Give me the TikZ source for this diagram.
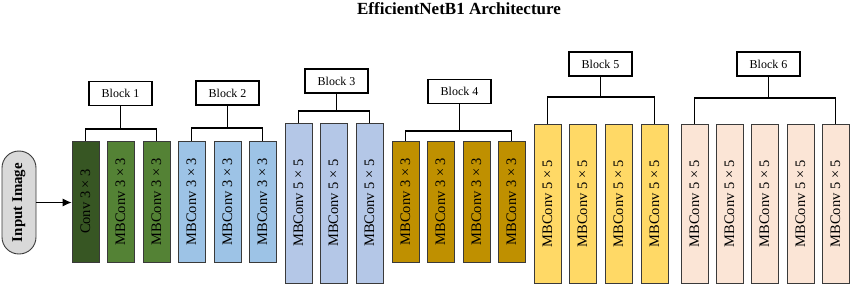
\documentclass[tikz,border=0pt]{standalone}
\usepackage{fontspec}
\setmainfont{Liberation Serif}
\usetikzlibrary{arrows.meta,shadows}

\definecolor{convdark}{HTML}{375623}
\definecolor{greenmb}{HTML}{548235}
\definecolor{bluemb}{HTML}{9DC3E6}
\definecolor{lavmb}{HTML}{B4C7E7}
\definecolor{goldmb}{HTML}{BF9000}
\definecolor{yellowmb}{HTML}{FFD966}
\definecolor{peachmb}{HTML}{FBE5D6}
\definecolor{barline}{HTML}{3A3A3A}

\tikzset{
  layer/.style={draw=barline, line width=0.7pt, minimum width=27pt,
    inner sep=0pt, font=\fontsize{14.5}{16}\selectfont,
    drop shadow={shadow xshift=0.9pt, shadow yshift=-0.9pt, fill=black!45, opacity=0.8}},
  short/.style={layer, minimum height=121pt},
  tall/.style={layer, minimum height=159pt},
  blockbox/.style={draw=black, line width=1.4pt, fill=white,
    minimum width=63pt, minimum height=24pt, inner sep=0pt,
    font=\fontsize{12}{14}\selectfont},
  link/.style={draw=black, line width=1.3pt},
}

\newcommand{\vtext}[1]{\rotatebox{90}{#1}}

\begin{document}
\begin{tikzpicture}[x=1pt, y=-1pt]
\useasboundingbox (0,0) rectangle (850,285);

% title
\node[font=\bfseries\fontsize{17}{20}\selectfont] (title) at (459,9) {EfficientNetB1 Architecture};

% input
\node[draw=barline, line width=0.9pt, fill=black!15, rounded corners=16.9pt,
  minimum width=34pt, minimum height=103pt, inner sep=0pt,
  font=\bfseries\fontsize{14.9}{16}\selectfont] (input) at (19,202.5) {\vtext{Input Image}};

% block 1
\node[short, fill=convdark] (c11) at (85.5,201.5) {\vtext{Conv 3 × 3}};
\node[short, fill=greenmb] (c12) at (120.5,201.5) {\vtext{MBConv 3 × 3}};
\node[short, fill=greenmb] (c13) at (156.5,201.5) {\vtext{MBConv 3 × 3}};

% block 2
\node[short, fill=bluemb] (c21) at (191.5,201.5) {\vtext{MBConv 3 × 3}};
\node[short, fill=bluemb] (c22) at (227.5,201.5) {\vtext{MBConv 3 × 3}};
\node[short, fill=bluemb] (c23) at (262.5,201.5) {\vtext{MBConv 3 × 3}};

% block 3
\node[layer, minimum height=160pt, fill=lavmb] (c31) at (298.5,203) {\vtext{MBConv 5 × 5}};
\node[layer, minimum height=160pt, fill=lavmb] (c32) at (333.5,203) {\vtext{MBConv 5 × 5}};
\node[layer, minimum height=160pt, fill=lavmb] (c33) at (369.5,203) {\vtext{MBConv 5 × 5}};

% block 4
\node[short, fill=goldmb] (c41) at (405.5,201.5) {\vtext{MBConv 3 × 3}};
\node[short, fill=goldmb] (c42) at (440.5,201.5) {\vtext{MBConv 3 × 3}};
\node[short, fill=goldmb] (c43) at (476.5,201.5) {\vtext{MBConv 3 × 3}};
\node[short, fill=goldmb] (c44) at (511.5,201.5) {\vtext{MBConv 3 × 3}};

% block 5
\node[tall, fill=yellowmb] (c51) at (547.5,203.5) {\vtext{MBConv 5 × 5}};
\node[tall, fill=yellowmb] (c52) at (582.5,203.5) {\vtext{MBConv 5 × 5}};
\node[tall, fill=yellowmb] (c53) at (618.5,203.5) {\vtext{MBConv 5 × 5}};
\node[tall, fill=yellowmb] (c54) at (654.5,203.5) {\vtext{MBConv 5 × 5}};

% block 6
\node[tall, fill=peachmb] (c61) at (694.5,203.5) {\vtext{MBConv 5 × 5}};
\node[tall, fill=peachmb] (c62) at (729.5,203.5) {\vtext{MBConv 5 × 5}};
\node[tall, fill=peachmb] (c63) at (764.5,203.5) {\vtext{MBConv 5 × 5}};
\node[tall, fill=peachmb] (c64) at (800.5,203.5) {\vtext{MBConv 5 × 5}};
\node[tall, fill=peachmb] (c65) at (835.5,203.5) {\vtext{MBConv 5 × 5}};

% block labels
\node[blockbox] (k1) at (120.5,93.5) {Block 1};
\node[blockbox] (k2) at (227.5,93) {Block 2};
\node[blockbox] (k3) at (336.5,81) {Block 3};
\node[blockbox] (k4) at (459.5,91.5) {Block 4};
\node[blockbox] (k5) at (600.5,64) {Block 5};
\node[blockbox] (k6) at (768.5,64) {Block 6};

% branch points
\coordinate (j1) at (120.5,129);
\coordinate (j2) at (227.5,128);
\coordinate (j3) at (336.5,111);
\coordinate (j4) at (459.5,131);
\coordinate (j5) at (600.5,97);
\coordinate (j6) at (768.5,98);

% connectors from each label to the ends of its block
\foreach \b/\first/\last in {1/c11/c13, 2/c21/c23, 3/c31/c33, 4/c41/c44, 5/c51/c54, 6/c61/c65}{
  \draw[link] (k\b.south) -- (j\b);
  \draw[link] (\first.north) |- (j\b) -| (\last.north);
}

% input arrow
\draw[line width=1pt, -{Latex[length=9pt,width=8pt]}] (input.east) -- (input.east -| c11.west);
\end{tikzpicture}
\end{document}
